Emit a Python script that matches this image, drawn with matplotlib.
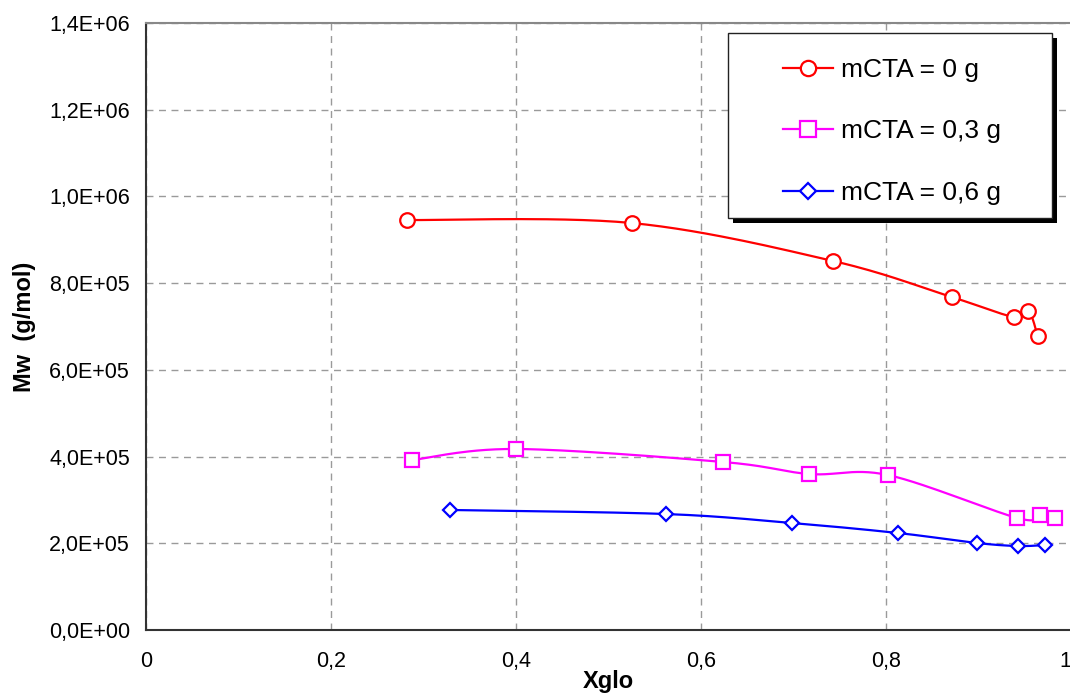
import numpy as np
import matplotlib
matplotlib.use("Agg")
import matplotlib.pyplot as plt
from matplotlib.patches import Rectangle
from matplotlib.ticker import FixedLocator, FixedFormatter

# ---- data ----
x_cta0 = [0.282, 0.525, 0.743, 0.871, 0.938, 0.954, 0.964]
y_cta0 = [945600, 938700, 851000, 768000, 722000, 735800, 678000]

x_cta03 = [0.288, 0.400, 0.624, 0.717, 0.802, 0.942, 0.966, 0.983]
y_cta03 = [392100, 417500, 387500, 359800, 357500, 258300, 265200, 258300]

x_cta06 = [0.329, 0.562, 0.698, 0.813, 0.898, 0.943, 0.972]
y_cta06 = [276800, 267500, 246800, 223700, 200700, 193700, 196000]

labels = ["mCTA = 0 g", "mCTA = 0,3 g", "mCTA = 0,6 g"]
xticks = [0, 0.2, 0.4, 0.6, 0.8, 1.0]
xticklabels = ["0", "0,2", "0,4", "0,6", "0,8", "1"]
yticks = [0, 2e5, 4e5, 6e5, 8e5, 1e6, 1.2e6, 1.4e6]
yticklabels = ["0,0E+00", "2,0E+05", "4,0E+05", "6,0E+05", "8,0E+05",
               "1,0E+06", "1,2E+06", "1,4E+06"]

plt.rcParams['font.family'] = ['Liberation Sans', 'DejaVu Sans']


def smooth(xs, ys, n=30):
    """Excel-like smoothed line (Catmull-Rom Bezier) through given points."""
    P = np.column_stack([xs, ys]).astype(float)
    m = len(P)
    out = [P[0]]
    t = np.linspace(0, 1, n)[1:]
    for i in range(m - 1):
        p0 = P[i - 1] if i > 0 else P[i]
        p1, p2 = P[i], P[i + 1]
        p3 = P[i + 2] if i + 2 < m else P[i + 1]
        c1 = p1 + (p2 - p0) / 6.0
        c2 = p2 - (p3 - p1) / 6.0
        for tt in t:
            b = ((1 - tt) ** 3) * p1 + 3 * ((1 - tt) ** 2) * tt * c1 + \
                3 * (1 - tt) * tt ** 2 * c2 + tt ** 3 * p2
            out.append(b)
    out = np.array(out)
    return out[:, 0], out[:, 1]


W, H = 1070, 695
fig = plt.figure(figsize=(W / 100, H / 100), dpi=100)
ax = fig.add_axes([146 / W, 1 - 630 / H, (1071 - 146) / W, (630 - 23) / H])

series = [
    (x_cta0, y_cta0, '#FF0000', 'o', 10.5),
    (x_cta03, y_cta03, '#FF00FF', 's', 10.5),
    (x_cta06, y_cta06, '#0000FF', 'D', 7.5),
]
handles = []
for (xs, ys, c, mk, ms), lab in zip(series, labels):
    sx, sy = smooth(xs, ys)
    ax.plot(sx, sy, color=c, lw=1.6, zorder=3)
    ax.plot(xs, ys, linestyle='none', marker=mk, ms=ms, mfc='white',
            mec=c, mew=1.6, zorder=4)
    h, = ax.plot([], [], color=c, lw=1.6, marker=mk, ms=ms, mfc='white',
                 mec=c, mew=1.6)
    handles.append(h)

ax.set_xlim(0, 1)
ax.set_ylim(0, 1.4e6)
ax.xaxis.set_major_locator(FixedLocator(xticks))
ax.xaxis.set_major_formatter(FixedFormatter(xticklabels))
ax.yaxis.set_major_locator(FixedLocator(yticks))
ax.yaxis.set_major_formatter(FixedFormatter(yticklabels))
ax.tick_params(length=0, labelsize=15.5, colors='black')
ax.tick_params(axis='y', pad=11.5)
ax.tick_params(axis='x', pad=15)
ax.grid(True, color='#9a9a9a', linestyle=(0, (5, 4)), linewidth=1.0, zorder=1)
ax.set_axisbelow(True)

for s in ['left', 'bottom']:
    ax.spines[s].set_color('#333333')
    ax.spines[s].set_linewidth(1.5)
ax.spines['top'].set_color('#888888')
ax.spines['top'].set_linewidth(1.5)
ax.spines['right'].set_visible(False)

ax.set_xlabel('Xglo', fontsize=17, fontweight='bold', labelpad=-1)
ax.set_ylabel('Mw  (g/mol)', fontsize=17, fontweight='bold', labelpad=9)

# keep last x tick label inside the figure
fig.canvas.draw()
xt = ax.get_xticklabels()
xt[-1].set_horizontalalignment('right')

# legend: frame + shadow drawn manually (pixel coordinates of reference box)
bx0, by0, bx1, by1 = 728, 33, 1052, 218
shadow = Rectangle((bx0 + 5, H - by1 - 5), bx1 - bx0, by1 - by0,
                   transform=None, facecolor='black', edgecolor='none',
                   zorder=8, clip_on=False)
ax.add_patch(shadow)
box = Rectangle((bx0, H - by1), bx1 - bx0, by1 - by0,
                transform=None, facecolor='white', edgecolor='#222222',
                linewidth=1.0, zorder=9, clip_on=False)
ax.add_patch(box)

leg = ax.legend(handles, labels, loc='upper left',
                bbox_to_anchor=(783 / W, 1 - 58 / H),
                bbox_transform=fig.transFigure,
                fontsize=19, frameon=False, markerscale=1.05,
                handlelength=1.9, handletextpad=0.3, labelspacing=1.42,
                borderpad=0, borderaxespad=0)
leg.set_zorder(10)

fig.savefig('out.png', dpi=100)
